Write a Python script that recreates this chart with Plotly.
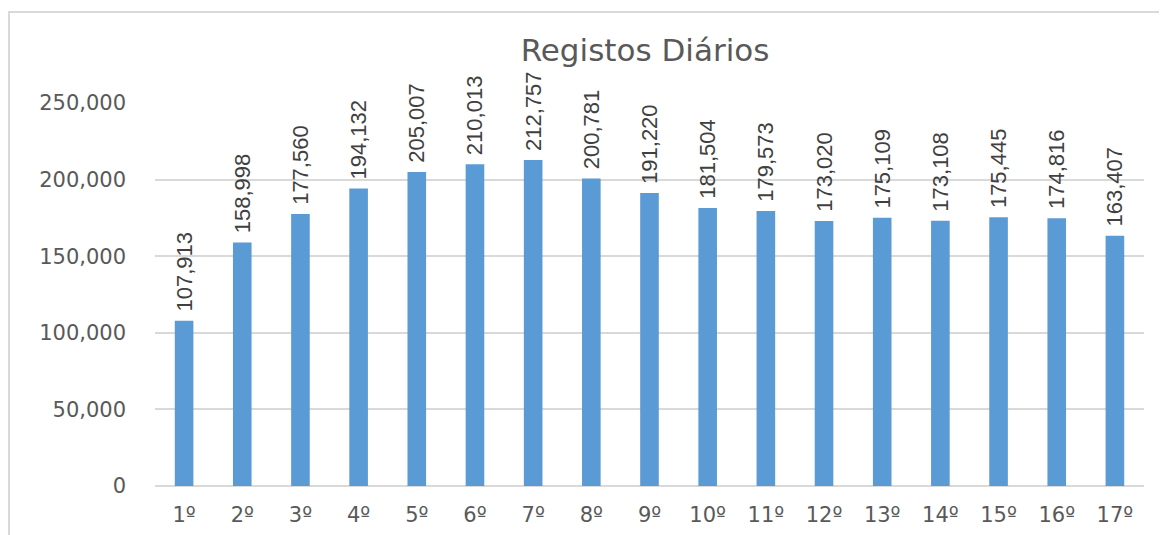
import plotly.graph_objects as go

categories = ["1º", "2º", "3º", "4º", "5º", "6º", "7º", "8º", "9º", "10º", "11º", "12º", "13º", "14º", "15º", "16º", "17º"]
values = [107913, 158998, 177560, 194132, 205007, 210013, 212757, 200781, 191220, 181504, 179573, 173020, 175109, 173108, 175445, 174816, 163407]
y_ticks = [0, 50000, 100000, 150000, 200000, 250000]
y_tick_labels = ["0", "50,000", "100,000", "150,000", "200,000", "250,000"]
title_text = "Registos Diários"

W, H = 1167, 535
OFF = 8  # page body margin offset
L, T = 155 - OFF, 103 - OFF
R = W - (1144 - OFF)
B = H - (486 - OFF)
pw = W - L - R
ph = H - T - B

fig = go.Figure(go.Bar(
    x=categories,
    y=values,
    marker=dict(color="#5B9BD5", line=dict(width=0)),
    text=["\u00a0" + f"{v:,}" for v in values],
    textposition="outside",
    textangle=-90,
    constraintext="none",
    textfont=dict(family="Liberation Sans, Arial", size=22, color="#404040"),
    cliponaxis=False,
))

fig.update_layout(
    width=W, height=H,
    margin=dict(l=L, r=R, t=T, b=B, autoexpand=False),
    paper_bgcolor="white",
    plot_bgcolor="white",
    bargap=0.68,
    showlegend=False,
    title=dict(text=title_text, x=(645 - 155) / pw, xref="paper", xanchor="center",
               y=1 - (50 - OFF) / H, yanchor="middle",
               font=dict(family="DejaVu Sans, Open Sans, Arial", size=31, color="#595959")),
    uniformtext=dict(mode=False),
    shapes=[dict(type="rect", xref="paper", yref="paper",
                 x0=(9 - 155) / pw, x1=(1190 - 155) / pw,
                 y0=(486 - 560) / ph, y1=(486 - 12) / ph,
                 line=dict(color="#D9D9D9", width=2), fillcolor="rgba(0,0,0,0)", layer="below")],
)

fig.update_yaxes(
    range=[0, 250000],
    tickvals=y_ticks,
    ticktext=y_tick_labels,
    showgrid=True,
    gridcolor="#D9D9D9",
    gridwidth=1.5,
    zeroline=True,
    zerolinecolor="#D9D9D9",
    zerolinewidth=1.5,
    showline=False,
    ticks="",
    ticklabelstandoff=28,
    tickfont=dict(family="DejaVu Sans, Open Sans, Arial", size=21, color="#595959"),
)
fig.update_xaxes(
    showgrid=False,
    showline=False,
    ticks="",
    ticklabelstandoff=14,
    tickfont=dict(family="DejaVu Sans, Open Sans, Arial", size=21, color="#595959"),
)

fig.write_html("out.html")
